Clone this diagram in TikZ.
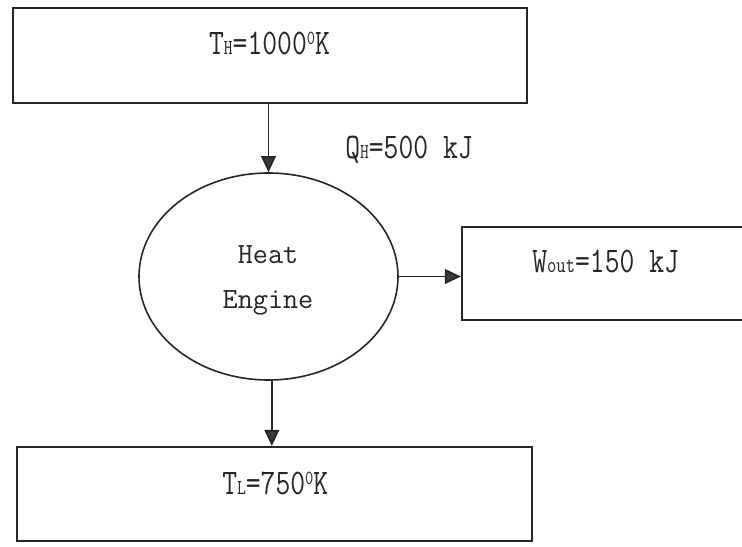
\documentclass[tikz,border=0pt]{standalone}
\usepackage{fontspec}
\usepackage{graphicx}
\usetikzlibrary{arrows.meta,shapes.geometric,fit}
\definecolor{ink}{HTML}{262626}
\definecolor{headfill}{HTML}{3A3A3A}
\newcommand\lab[1]{\scalebox{0.8}[1]{\fontsize{27}{30}\selectfont\ttfamily #1}}
\newcommand\sbs[1]{{\fontsize{16}{16}\selectfont #1}}
\newcommand\sbo[1]{{\fontsize{17}{17}\selectfont #1}}
\newcommand\sps[1]{\raisebox{7.3pt}{\fontsize{15}{15}\selectfont #1}}
\begin{document}
\begin{tikzpicture}[x=0.75pt,y=-0.75pt,
  box/.style={draw=ink,line width=1.6pt,inner sep=0pt,rectangle},
  eng/.style={draw=ink,line width=1.2pt,ellipse,inner sep=0pt,
    minimum width=194.25pt,minimum height=155.25pt},
  etext/.style={inner sep=0pt,text=ink,font=\fontsize{22}{26}\selectfont\ttfamily},
  lbl/.style={inner sep=0pt,text=ink},
  arr/.style={draw=ink,line width=1.4pt,
    -{Triangle[length=12pt,width=11pt,fill=headfill]}}]
\fill[white] (0,0) rectangle (742,546);
\useasboundingbox (0,0) rectangle (742,546);
\node[box,fit={(13,8)(527,103)}] (hot) {};
\node[box,fit={(462,227)(750,320)}] (work) {};
\node[box,fit={(17,447)(532,541)}] (cold) {};
\node[eng] (eng) at (268.5,276.5) {};
\node[etext,anchor=base] (heat) at (268,263) {Heat};
\node[etext,anchor=base] (engine) at (268,308) {Engine};
\node[lbl,anchor=base] (th) at (269.5,54) {\lab{T\sbs{H}=1000\sps{0}K}};
\node[lbl,anchor=base west] (qh) at (345,158) {\lab{Q\sbs{H}=500 kJ}};
\node[lbl,anchor=base west] (wo) at (532,272) {\lab{W\sbo{out}=150 kJ}};
\node[lbl,anchor=base west] (tl) at (222,494) {\lab{T\sbs{L}=750\sps{0}K}};
\draw[arr] (eng.north |- hot.south) -- (eng.north);
\draw[arr] (eng.east) -- (eng.east -| work.west);
\draw[arr] ([xshift=2.5pt]eng.south) -- ([xshift=2.5pt]eng.south |- cold.north);
\end{tikzpicture}
\end{document}
